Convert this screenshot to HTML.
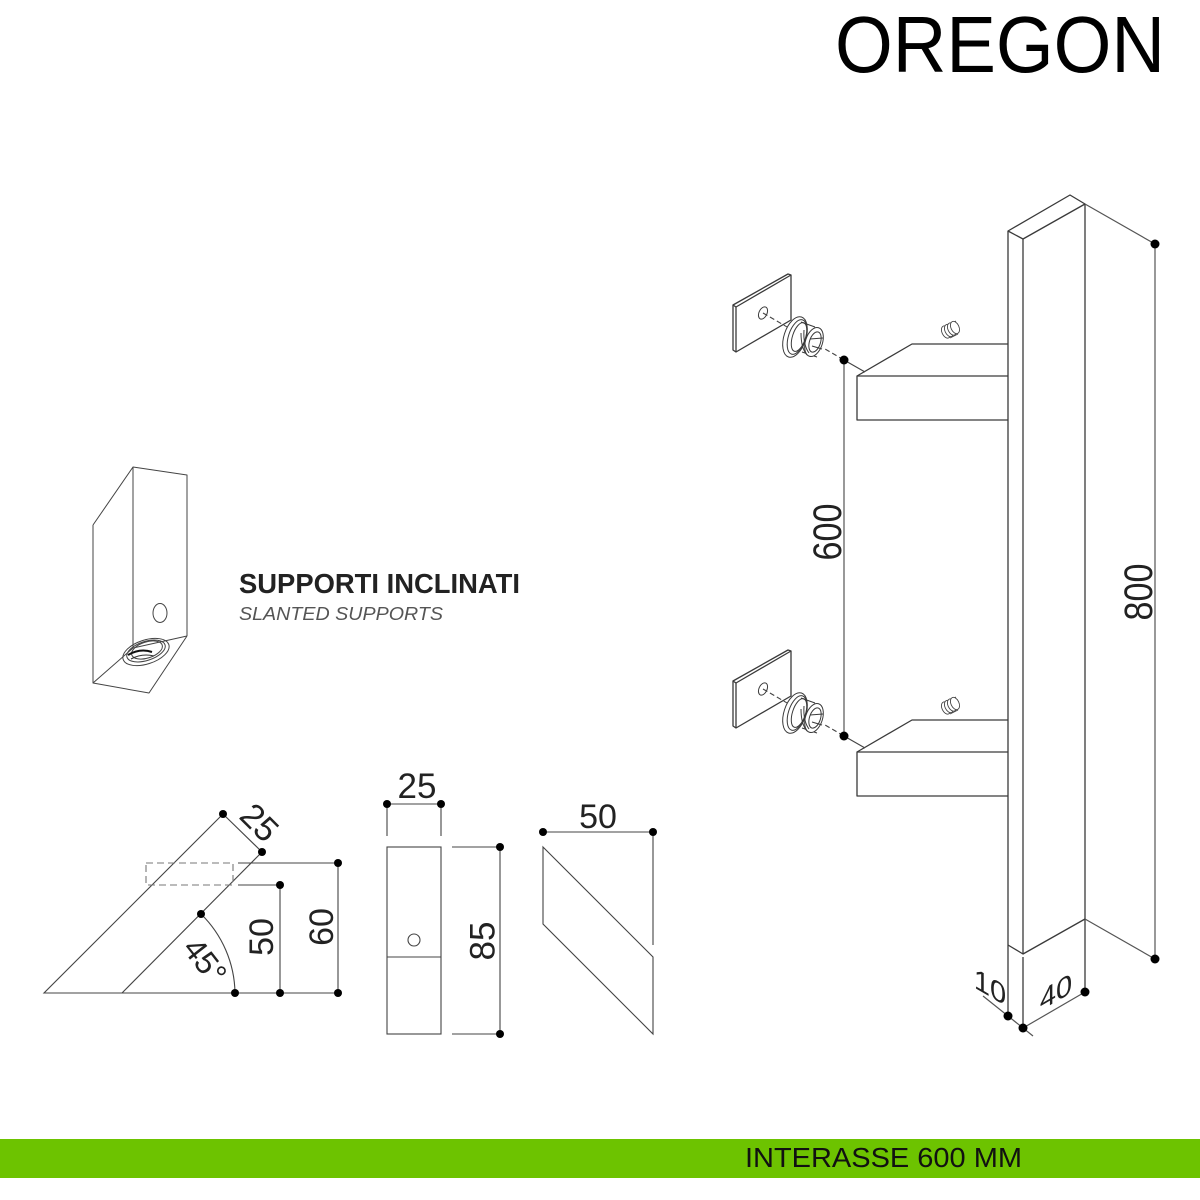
<!DOCTYPE html>
<html>
<head>
<meta charset="utf-8">
<style>
  html, body { margin: 0; padding: 0; background: #ffffff; }
  svg { display: block; }
  text { font-family: "Liberation Sans", "DejaVu Sans", sans-serif; }
</style>
</head>
<body>
<svg width="1200" height="1200" viewBox="0 0 1200 1200" xmlns="http://www.w3.org/2000/svg">
  <rect x="0" y="0" width="1200" height="1200" fill="#ffffff"/>

  <!-- Title -->
  <text x="835" y="72" font-size="80" textLength="330" lengthAdjust="spacingAndGlyphs" fill="#000">OREGON</text>

  <!-- Support captions -->
  <text x="239" y="593" font-size="28" font-weight="bold" textLength="281" lengthAdjust="spacingAndGlyphs" fill="#222">SUPPORTI INCLINATI</text>
  <text x="239" y="620" font-size="18.6" font-style="italic" textLength="204" lengthAdjust="spacingAndGlyphs" fill="#555">SLANTED SUPPORTS</text>

  <!-- Green bar -->
  <rect x="0" y="1139" width="1200" height="39" fill="#6dc300"/>
  <text x="745" y="1167" font-size="28" textLength="277" lengthAdjust="spacingAndGlyphs" fill="#111">INTERASSE 600 MM</text>

  <!-- ============ HANDLE ============ -->
  <g fill="none" stroke="#3a3a3a" stroke-width="1.3" stroke-linejoin="round">
    <path d="M1008,231 L1070,195 L1085,204 L1023,239 Z"/>
    <path d="M1008,231 V1016"/>
    <path d="M1023,239 V954"/>
    <path d="M1023,957 V1028"/>
    <path d="M1085,204 V992"/>
    <path d="M1008,945 L1023,954 L1085,919"/>
  </g>
  <g fill="none" stroke="#555" stroke-width="1.2">
    <path d="M1085,204 L1155,244 V959 L1085,919"/>
    <path d="M983,996 L1033,1036"/>
    <path d="M1023,1028 L1085,992"/>
    <path d="M844,360 V737"/>
  </g>
  <g fill="#000">
    <circle cx="1155" cy="244" r="4.5"/>
    <circle cx="1155" cy="959" r="4.5"/>
    <circle cx="1008" cy="1016" r="4.5"/>
    <circle cx="1023" cy="1028" r="4.5"/>
    <circle cx="1085" cy="992" r="4.5"/>
  </g>
  <text x="0" y="0" font-size="40" textLength="57" lengthAdjust="spacingAndGlyphs" text-anchor="middle" dominant-baseline="central" fill="#222" transform="translate(828,532) rotate(-90)">600</text>
  <text x="0" y="0" font-size="40" textLength="57" lengthAdjust="spacingAndGlyphs" text-anchor="middle" dominant-baseline="central" fill="#222" transform="translate(1139,592) rotate(-90)">800</text>
  <text x="0" y="0" font-size="29" text-anchor="middle" dominant-baseline="central" fill="#222" transform="translate(990,987) skewY(30)">10</text>
  <text x="0" y="0" font-size="29" text-anchor="middle" dominant-baseline="central" fill="#222" transform="translate(1056,992) skewY(-30)">40</text>

  <!-- ============ BRACKET ASSEMBLIES (upper & lower) ============ -->
  <g id="assy">
    <g fill="none" stroke="#3a3a3a" stroke-width="1.3" stroke-linejoin="round">
      <!-- bracket arm -->
      <path d="M1008,376 H857 V420 H1008"/>
      <path d="M857,376 L912,344 H1008"/>
      <!-- plate -->
      <path d="M733,305 L788,274 L791,275 L791,320 L736,352 L733,350 Z" fill="#fff"/>
      <path d="M733,305 L736,307 L791,275"/>
      <path d="M736,307 V352"/>
    </g>
    <!-- hole -->
    <ellipse cx="763" cy="313" rx="4" ry="6.5" fill="#fff" stroke="#3a3a3a" stroke-width="1" transform="rotate(25 763 313)"/>
    <!-- leader -->
    <path d="M763,313 L844,360" stroke="#444" stroke-width="1.1" stroke-dasharray="5,3" fill="none"/>
    <path d="M844,360 L865,372" stroke="#444" stroke-width="1.1" fill="none"/>
    <!-- knob -->
    <g fill="#fff" stroke="#3a3a3a" stroke-width="1">
      <path d="M797,316 L815,325 L824,345 L818,358 L800,358 L788,350 Z" stroke="none"/>
      <ellipse cx="795" cy="337" rx="11" ry="21" transform="rotate(18 795 337)"/>
      <ellipse cx="797" cy="337" rx="8.5" ry="18" transform="rotate(18 797 337)"/>
      <ellipse cx="799" cy="337" rx="6.5" ry="15" transform="rotate(18 799 337)"/>
      <path d="M801,322 L815,327" fill="none"/>
      <path d="M802,352 L817,357" fill="none"/>
      <ellipse cx="814" cy="342" rx="8.5" ry="15" transform="rotate(18 814 342)"/>
      <ellipse cx="815" cy="342" rx="5.5" ry="10.5" transform="rotate(18 815 342)"/>
      <path d="M810,339 L823,338 M812,346 L822,349" fill="none"/>
      <path d="M801,333 Q801,348 807,355" fill="none"/>
      <path d="M804,330 Q803,345 809,353" fill="none"/>
    </g>
    <!-- grub screw -->
    <g fill="#fff" stroke="#444" stroke-width="0.9">
      <path d="M943,326 L954,320 L959,333 L948,339 Z" stroke="none"/>
      <ellipse cx="946" cy="332" rx="4" ry="6.5" transform="rotate(-25 946 332)"/>
      <path d="M948,325 L956,321 M950,338 L958,334" fill="none"/>
      <ellipse cx="949" cy="330.5" rx="4" ry="6.5" transform="rotate(-25 949 330.5)"/>
      <ellipse cx="952" cy="329" rx="4" ry="6.5" transform="rotate(-25 952 329)"/>
      <ellipse cx="955" cy="327.5" rx="4" ry="6.5" transform="rotate(-25 955 327.5)"/>
    </g>
    <circle cx="844" cy="360" r="4.5" fill="#000"/>
  </g>
  <use href="#assy" transform="translate(0,376)"/>

  <!-- ============ ISO SUPPORT (left) ============ -->
  <g fill="none" stroke="#444" stroke-width="1" stroke-linejoin="round">
    <path d="M93,525 L133,467 L187,475 V636"/>
    <path d="M133,467 V648"/>
    <path d="M93,525 V683 L149,693 L187,636"/>
    <path d="M133,648 L187,636"/>
    <path d="M93,683 L133,648"/>
    <ellipse cx="160" cy="613" rx="7" ry="9.5"/>
    <ellipse cx="146" cy="652" rx="24" ry="12" transform="rotate(-18 146 652)"/>
    <ellipse cx="146" cy="651" rx="20" ry="9.5" transform="rotate(-18 146 651)"/>
    <ellipse cx="147" cy="650" rx="16" ry="8" transform="rotate(-18 147 650)"/>
    <path d="M128,655 Q140,648 152,652" stroke="#111" stroke-width="2"/>
    <path d="M131,659 Q142,653 154,656" stroke="#333" stroke-width="1"/>
  </g>

  <!-- ============ SIDE PROFILE (bottom-left) ============ -->
  <g fill="none" stroke="#444" stroke-width="1.1">
    <path d="M223,814 L44,993 H338"/>
    <path d="M262,852 L122,993"/>
    <path d="M223,814 L262,852"/>
    <path d="M201,914 A113,113 0 0 1 235,993"/>
    <path d="M238,863 H338 V993"/>
    <path d="M238,885 H280 V993"/>
  </g>
  <rect x="146" y="863" width="87" height="22" fill="none" stroke="#777" stroke-width="1.1" stroke-dasharray="7,4"/>
  <g fill="#000">
    <circle cx="223" cy="814" r="4"/>
    <circle cx="262" cy="852" r="4"/>
    <circle cx="201" cy="914" r="4"/>
    <circle cx="235" cy="993" r="4"/>
    <circle cx="280" cy="993" r="4"/>
    <circle cx="338" cy="993" r="4"/>
    <circle cx="338" cy="863" r="4"/>
    <circle cx="280" cy="885" r="4"/>
  </g>
  <text x="0" y="0" font-size="34" text-anchor="middle" dominant-baseline="central" fill="#222" transform="translate(259,823) rotate(45)">25</text>
  <text x="0" y="0" font-size="34" text-anchor="middle" dominant-baseline="central" fill="#222" transform="translate(262,937) rotate(-90)">50</text>
  <text x="0" y="0" font-size="34" text-anchor="middle" dominant-baseline="central" fill="#222" transform="translate(322,927) rotate(-90)">60</text>
  <text x="0" y="0" font-size="32" text-anchor="middle" dominant-baseline="central" fill="#222" transform="translate(205,961) rotate(52)">45°</text>

  <!-- ============ FRONT VIEW (middle) ============ -->
  <g fill="none" stroke="#444" stroke-width="1.1">
    <path d="M387,804 H441"/>
    <path d="M387,804 V836 M441,804 V836"/>
    <rect x="387" y="847" width="54" height="187"/>
    <path d="M387,957 H441"/>
    <circle cx="414" cy="940" r="6"/>
    <path d="M452,847 H500 V1034 H452"/>
  </g>
  <g fill="#000">
    <circle cx="387" cy="804" r="4"/>
    <circle cx="441" cy="804" r="4"/>
    <circle cx="500" cy="847" r="4"/>
    <circle cx="500" cy="1034" r="4"/>
  </g>
  <text x="417" y="798" font-size="35" text-anchor="middle" fill="#222">25</text>
  <text x="0" y="0" font-size="35" text-anchor="middle" dominant-baseline="central" fill="#222" transform="translate(483,941) rotate(-90)">85</text>

  <!-- ============ SIDE VIEW (right) ============ -->
  <g fill="none" stroke="#444" stroke-width="1.1">
    <path d="M543,832 H653 V945"/>
    <path d="M543,847 L653,957 V1034 L543,924 Z"/>
  </g>
  <g fill="#000">
    <circle cx="543" cy="832" r="4"/>
    <circle cx="653" cy="832" r="4"/>
  </g>
  <text x="598" y="828" font-size="34" text-anchor="middle" fill="#222">50</text>
</svg>
</body>
</html>
